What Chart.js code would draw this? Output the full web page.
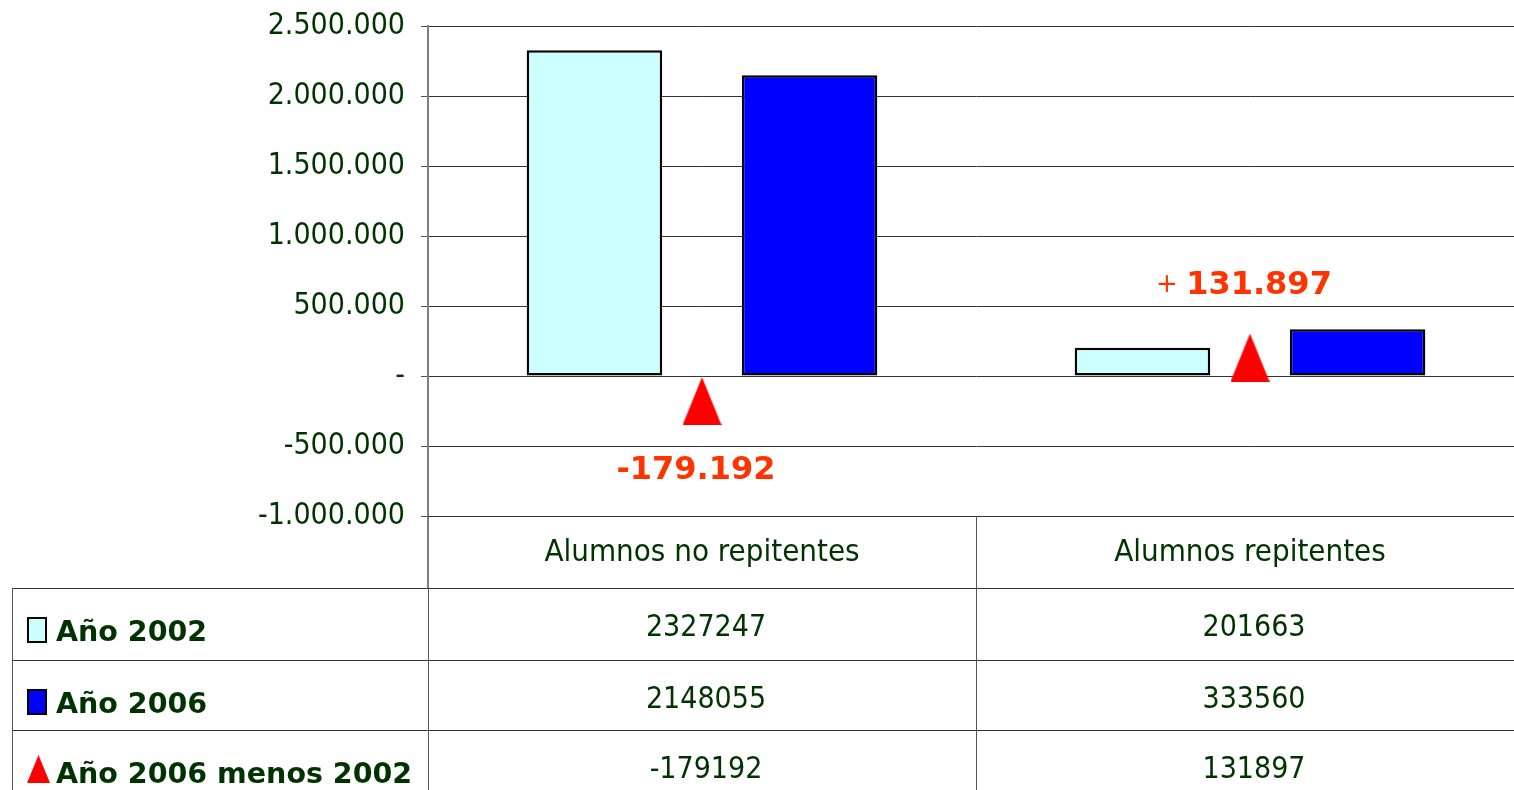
<!DOCTYPE html>
<html>
<head>
<meta charset="utf-8">
<script src="https://cdn.jsdelivr.net/npm/chart.js@4.4.0/dist/chart.umd.min.js"></script>
<style>
  html, body { margin: 0; padding: 0; background: #fff; overflow: hidden; }
  #wrap { width: 1528px; height: 790px; }
</style>
</head>
<body>
<div id="wrap"><canvas id="chart" width="1528" height="790"></canvas></div>
<script>
// chart data
const categories = ['Alumnos no repitentes', 'Alumnos repitentes'];
const seriesNames = ['Año 2002', 'Año 2006', 'Año 2006 menos 2002'];
const year2002 = [2327247, 201663];
const year2006 = [2148055, 333560];
const difference = [-179192, 131897];
const yTicks = [-1000000, -500000, 0, 500000, 1000000, 1500000, 2000000, 2500000];

const GREEN = '#003300';
const LABEL_RED = '#ff3300';
const COND = '"DejaVu Sans Condensed", "DejaVu Sans", sans-serif';
const WIDE = '"DejaVu Sans", Verdana, sans-serif';

// thousands with dots, spanish style
const fmt = v => (v < 0 ? '-' : '') + String(Math.abs(v)).replace(/\B(?=(\d{3})+(?!\d))/g, '.');

// tall red triangle used as point marker
const tri = document.createElement('canvas');
tri.width = 39; tri.height = 48;
const tc = tri.getContext('2d');
tc.fillStyle = '#ff0000';
tc.beginPath(); tc.moveTo(19.5, 0); tc.lineTo(39, 48); tc.lineTo(0, 48); tc.closePath(); tc.fill();

// labels above / below the triangles
const diffLabels = {
  id: 'diffLabels',
  afterDatasetsDraw(chart) {
    const {ctx} = chart;
    const meta = chart.getDatasetMeta(2);
    ctx.save();
    ctx.fillStyle = LABEL_RED;
    ctx.textBaseline = 'middle';
    meta.data.forEach((pt, i) => {
      const v = difference[i];
      const cx = pt.x - 6;
      if (v < 0) {
        ctx.font = 'bold 32px ' + WIDE;
        ctx.textAlign = 'center';
        ctx.fillText(fmt(v), cx, pt.y + 70);
      } else {
        ctx.font = '26px ' + WIDE;
        const plus = '+ ';
        const pw = ctx.measureText(plus).width;
        ctx.font = 'bold 32px ' + WIDE;
        const nw = ctx.measureText(fmt(v)).width;
        const x0 = cx - (pw + nw) / 2;
        ctx.textAlign = 'left';
        ctx.font = '26px ' + WIDE;
        ctx.fillText(plus, x0, pt.y - 72);
        ctx.font = 'bold 32px ' + WIDE;
        ctx.fillText(fmt(v), x0 + pw, pt.y - 72);
      }
    });
    ctx.restore();
  }
};

// data table under the plot
const dataTable = {
  id: 'dataTable',
  afterDraw(chart) {
    const {ctx, chartArea: a, scales: {x}} = chart;
    const right = chart.width;
    const leftX = 12;
    const headTop = a.bottom, headBot = a.bottom + 72;
    const rowTops = [headBot, headBot + 72, headBot + 142];
    const mid = (x.getPixelForValue(0) + x.getPixelForValue(1)) / 2;
    const rows = [year2002, year2006, difference];
    const ds = chart.data.datasets;

    ctx.save();
    // axis continues through header row
    ctx.strokeStyle = '#808080';
    ctx.lineWidth = 2;
    ctx.beginPath(); ctx.moveTo(a.left, headTop); ctx.lineTo(a.left, headBot); ctx.stroke();

    ctx.strokeStyle = '#333';
    ctx.lineWidth = 1;
    ctx.beginPath();
    ctx.moveTo(a.left, headTop + 0.5); ctx.lineTo(right, headTop + 0.5);
    rowTops.forEach(t => { ctx.moveTo(leftX, t + 0.5); ctx.lineTo(right, t + 0.5); });
    ctx.stroke();

    ctx.strokeStyle = '#555';
    ctx.beginPath();
    ctx.moveTo(Math.round(mid) + 0.5, headTop); ctx.lineTo(Math.round(mid) + 0.5, chart.height);
    ctx.moveTo(a.left + 0.5, headBot); ctx.lineTo(a.left + 0.5, chart.height);
    ctx.moveTo(leftX + 0.5, headBot); ctx.lineTo(leftX + 0.5, chart.height);
    ctx.stroke();

    // header
    ctx.fillStyle = GREEN;
    ctx.textAlign = 'center';
    ctx.textBaseline = 'middle';
    ctx.font = '31px ' + COND;
    categories.forEach((c, i) => ctx.fillText(c, x.getPixelForValue(i), headTop + 37));

    // values
    ctx.font = '30px ' + COND;
    rows.forEach((r, ri) => {
      r.forEach((v, i) => ctx.fillText(String(v), x.getPixelForValue(i) + 4, rowTops[ri] + 40));
    });

    // legend column
    ctx.textAlign = 'left';
    ctx.textBaseline = 'alphabetic';
    ctx.font = 'bold 28.5px ' + WIDE;
    seriesNames.forEach((n, i) => {
      const t = rowTops[i];
      if (i < 2) {
        ctx.fillStyle = ds[i].backgroundColor;
        ctx.fillRect(28, t + 30, 18, 24);
        ctx.strokeStyle = '#000';
        ctx.lineWidth = 2;
        ctx.strokeRect(28, t + 30, 18, 24);
      } else {
        ctx.drawImage(tri, 0, 0, 39, 48, 27, t + 25, 23, 28);
      }
      ctx.fillStyle = GREEN;
      ctx.fillText(n, 56, t + 53);
    });
    ctx.restore();
  }
};

new Chart(document.getElementById('chart'), {
  data: {
    labels: categories,
    datasets: [
      {
        type: 'bar',
        label: seriesNames[0],
        data: year2002,
        backgroundColor: '#ccffff',
        borderColor: '#000',
        borderWidth: 2.5,
        borderSkipped: false,
        categoryPercentage: 0.785,
        barPercentage: 0.63,
        order: 2
      },
      {
        type: 'bar',
        label: seriesNames[1],
        data: year2006,
        backgroundColor: '#0000ff',
        borderColor: '#000',
        borderWidth: 2.5,
        borderSkipped: false,
        categoryPercentage: 0.785,
        barPercentage: 0.63,
        order: 2
      },
      {
        type: 'line',
        label: seriesNames[2],
        data: difference,
        showLine: false,
        pointStyle: tri,
        pointRadius: 1,
        borderWidth: 0,
        order: 1
      }
    ]
  },
  options: {
    responsive: false,
    animation: false,
    layout: { padding: { top: 26, right: 0, bottom: 274, left: 0 } },
    plugins: {
      legend: { display: false },
      tooltip: { enabled: false }
    },
    scales: {
      x: { display: false, offset: true },
      y: {
        min: -1000000,
        max: 2500000,
        afterBuildTicks: s => { s.ticks = yTicks.map(v => ({ value: v })); },
        afterFit: s => { s.width = 428; s.paddingTop = 0; s.paddingBottom = 0; },
        ticks: {
          color: GREEN,
          font: { family: COND, size: 30 },
          padding: 16,
          callback: v => v === 0 ? '-' : fmt(v)
        },
        grid: { color: '#333', tickLength: 7, tickColor: '#555' },
        border: { color: '#808080', width: 2 }
      }
    }
  },
  plugins: [diffLabels, dataTable]
});
</script>
</body>
</html>
